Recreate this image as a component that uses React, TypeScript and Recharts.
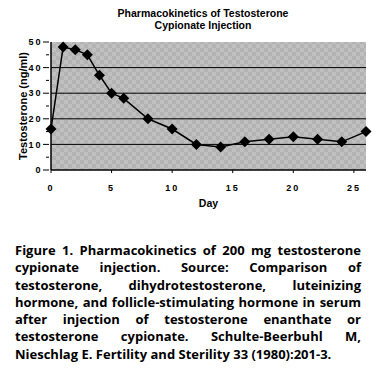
import { LineChart, Line, XAxis, YAxis, CartesianGrid } from 'recharts'

const days = [0, 1, 2, 3, 4, 5, 6, 8, 10, 12, 14, 16, 18, 20, 22, 24, 26]
const testosterone = [16, 48, 47, 45, 37, 30, 28, 20, 16, 10, 9, 11, 12, 13, 12, 11, 15]
const xTicks = [0, 5, 10, 15, 20, 25]
const yTicks = [0, 5, 10, 15, 20, 25, 30, 35, 40, 45, 50]
const gridLines = [10, 20, 30, 40]

const chartData = days.map((d, i) => ({ day: d, value: testosterone[i] }))

const captionLines = [
  'Figure 1. Pharmacokinetics of 200 mg testosterone',
  'cypionate injection. Source: Comparison of',
  'testosterone, dihydrotestosterone, luteinizing',
  'hormone, and follicle-stimulating hormone in serum',
  'after injection of testosterone enanthate or',
  'testosterone cypionate. Schulte-Beerbuhl M,',
  'Nieschlag E. Fertility and Sterility 33 (1980):201-3.',
]

const Diamond = (props: any) => {
  const { cx, cy } = props
  if (cx == null || cy == null) return null
  const r = 5.5
  return (
    <polygon
      points={`${cx},${cy - r} ${cx + r},${cy} ${cx},${cy + r} ${cx - r},${cy}`}
      fill="#000"
    />
  )
}

const tickStyle = { fontFamily: 'Liberation Sans, Arial', fontWeight: 700, fontSize: 9, letterSpacing: 2, fill: '#000' }
const labelStyle = { fontFamily: 'Liberation Sans, Arial', fontWeight: 700, fontSize: 10.5, fill: '#000' }

const YTick = (props: any) => {
  const { x, y, payload } = props
  const major = payload.value % 10 === 0
  return (
    <g>
      <line x1={x + 6} x2={x + (major ? 0 : 3)} y1={y} y2={y} stroke="#000" />
      {major && (
        <text x={x - 0.5} y={y} dy="0.35em" textAnchor="end" style={tickStyle}>
          {payload.value}
        </text>
      )}
    </g>
  )
}

const YLabel = (props: any) => {
  const { viewBox } = props
  const cx = 27
  const cy = viewBox.y + viewBox.height / 2
  return (
    <text
      x={cx}
      y={cy}
      transform={`rotate(-90, ${cx}, ${cy})`}
      textAnchor="middle"
      style={{ ...labelStyle, fontSize: 11 }}
    >
      Testosterone (ng/ml)
    </text>
  )
}

export default function App() {
  return (
    <div style={{ position: 'absolute', left: 0, top: 0, width: 379, height: 371, background: '#fff' }}>
      <div
        style={{
          position: 'absolute',
          left: 0,
          top: 8,
          width: 406,
          textAlign: 'center',
          fontFamily: 'Liberation Sans, Arial',
          fontWeight: 700,
          fontSize: 10.5,
          lineHeight: '11.5px',
        }}
      >
        Pharmacokinetics of Testosterone
        <br />
        Cypionate Injection
      </div>
      <LineChart
        width={379}
        height={215}
        data={chartData}
        margin={{ top: 42, right: 13, bottom: 5, left: 6 }}
      >
        <defs>
          <pattern id="checker" width="8" height="8" patternUnits="userSpaceOnUse">
            <rect width="8" height="8" fill="#c0c0c0" />
            <rect width="4" height="4" fill="#b3b3b3" />
            <rect x="4" y="4" width="4" height="4" fill="#b3b3b3" />
          </pattern>
        </defs>
        <CartesianGrid
          vertical={false}
          fill="url(#checker)"
          stroke="#000"
          strokeWidth={1}
          horizontalValues={gridLines}
        />
        <XAxis
          dataKey="day"
          type="number"
          domain={[0, 26]}
          ticks={xTicks}
          height={40}
          axisLine={{ stroke: '#000', strokeWidth: 1.5 }}
          tickLine={{ stroke: '#000' }}
          tickSize={3}
          tick={tickStyle}
          tickMargin={12}
          label={{ value: 'Day', position: 'insideBottom', offset: 3, style: labelStyle }}
        />
        <YAxis
          type="number"
          domain={[0, 50]}
          ticks={yTicks}
          interval={0}
          width={45}
          axisLine={{ stroke: '#000', strokeWidth: 1.5 }}
          tickLine={false}
          tickSize={6}
          tick={<YTick />}
          label={<YLabel />}
        />
        <Line
          type="linear"
          dataKey="value"
          stroke="#000"
          strokeWidth={1.5}
          dot={<Diamond />}
          activeDot={false}
          isAnimationActive={false}
        />
      </LineChart>
      <div
        style={{
          position: 'absolute',
          left: 15,
          top: 242,
          width: 346,
          fontFamily: 'Open Sans, Noto Sans, sans-serif',
          fontWeight: 700,
          fontSize: 13,
          lineHeight: '17.3px',
          color: '#000',
        }}
      >
        {captionLines.map((line, i) => (
          <div
            key={i}
            style={{
              textAlign: i < captionLines.length - 1 ? 'justify' : 'left',
              textAlignLast: i < captionLines.length - 1 ? 'justify' : 'left',
              whiteSpace: 'nowrap',
            }}
          >
            {line}
          </div>
        ))}
      </div>
    </div>
  )
}
